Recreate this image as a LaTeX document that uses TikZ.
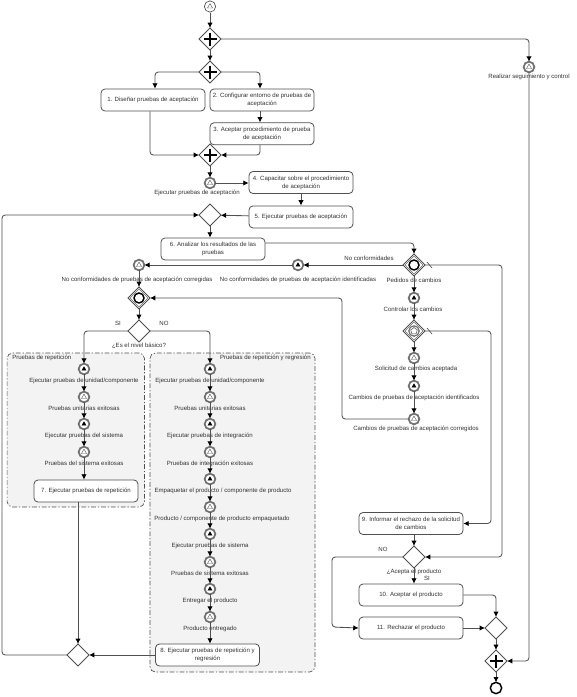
\documentclass[tikz,border=0pt]{standalone}
\usepackage{fontspec}
\setmainfont{Liberation Sans}
\usepackage{xcolor}
\usetikzlibrary{arrows.meta,positioning,shapes.geometric,calc}
\definecolor{linec}{HTML}{505050}
\definecolor{ringc}{HTML}{707070}
\definecolor{groupc}{HTML}{F3F3F3}
\tikzset{
  task/.style={draw=linec, fill=white, rounded corners=3pt, line width=.6pt, minimum width=78pt, minimum height=16.5pt, inner sep=0pt},
  gate/.style={draw=linec, fill=white, diamond, minimum size=16.5pt, inner sep=0pt, outer sep=0pt, line width=.6pt},
  plusgate/.style={gate, path picture={
    \draw[black, line width=2.2pt] ($(path picture bounding box.center)+(-6.5,0)$) -- ($(path picture bounding box.center)+(6.5,0)$);
    \draw[black, line width=2.2pt] ($(path picture bounding box.center)+(0,-6.5)$) -- ($(path picture bounding box.center)+(0,6.5)$);}},
  ringgate/.style={gate, path picture={
    \draw[ringc, line width=.3pt] (path picture bounding box.center) ++(-9,0) -- ++(9,-9) -- ++(9,9) -- ++(-9,9) -- cycle;
    \draw[black, line width=1.1pt] (path picture bounding box.center) circle[radius=5];}},
  multigate/.style={gate, path picture={
    \draw[ringc, line width=.3pt] (path picture bounding box.center) ++(-9,0) -- ++(9,-9) -- ++(9,9) -- ++(-9,9) -- cycle;
    \draw[ringc, line width=.9pt] (path picture bounding box.center) circle[radius=5.2];
    \draw[linec, line width=.4pt] (path picture bounding box.center) ++(0,-3.5) -- ++(3.3,2.4) -- ++(-1.2,3.9) -- ++(-4.2,0) -- ++(-1.2,-3.9) -- cycle;}},
  evbase/.style={circle, draw=ringc, fill=white, line width=1.3pt, minimum size=8pt, inner sep=0pt, outer sep=0pt},
  evcatch/.style={evbase, label={[regular polygon, regular polygon sides=3, draw=linec, line width=.3pt, minimum size=4.4pt, inner sep=0pt]center:}},
  evthrow/.style={evbase, label={[regular polygon, regular polygon sides=3, draw=black, fill=black, line width=.2pt, minimum size=3.6pt, inner sep=0pt]center:}},
  evlabel/.style={inner sep=0pt, text height=3.4pt, text depth=1pt},
  groupbox/.style={draw=linec, fill=groupc, dash pattern=on 3.6pt off 1.4pt on 1pt off 1.4pt, rounded corners=4pt, line width=.5pt, inner sep=0pt},
  flow/.style={->, draw=linec, line width=.65pt, rounded corners=2.5pt}
}
\begin{document}
\begin{tikzpicture}[x=.75pt, y=-.75pt, >={Latex[length=4pt,width=4pt,black]}, node distance=2.6pt, every node/.style={font=\fontsize{4.55}{6}\selectfont, text=black!80, align=center}]
\useasboundingbox (0,0) rectangle (577,697);

\node (rep) [groupbox, minimum width=103pt, minimum height=115.5pt] at (75.75,430) {};
\node (reg) [groupbox, minimum width=123.75pt, minimum height=239.25pt] at (232.5,512.5) {};
\node (replab) [evlabel, anchor=west] at (12,358) {Pruebas de repetición};
\node (reglab) [evlabel, anchor=east] at (311,358) {Pruebas de repetición y regresión};

\node (start) [circle, draw=linec, fill=white, line width=.5pt, minimum size=8.5pt, inner sep=0pt, label={[regular polygon, regular polygon sides=3, draw=linec, line width=.3pt, minimum size=4.4pt, inner sep=0pt]center:}] at (210,6.5) {};
\node (par1) [plusgate] at (210,39) {};
\node (par2) [plusgate] at (210,72) {};
\node (dis) [task] at (153,100) {1. Diseñar pruebas de aceptación};
\node (conf) [task] at (262,100) {2. Configurar entorno de pruebas de\\aceptación};
\node (acep) [task, below=8.25pt of conf] {3. Aceptar procedimiento de prueba\\de aceptación};
\node (par3) [plusgate] at (210,155) {};
\node (ejev) [evcatch] at (210,183) {};
\node (ejlab) [evlabel, below=1pt of ejev, xshift=-9.75pt] {Ejecutar pruebas de aceptación};
\node (capa) [task] at (301,182.5) {4. Capacitar sobre el procedimiento\\de aceptación};
\node (ejec) [task, below=8.75pt of capa] {5. Ejecutar pruebas de aceptación};
\node (xor1) [gate] at (210,215) {};
\node (anal) [task] at (213,249) {6. Analizar los resultados de las\\pruebas};

\node (real) [evcatch] at (529,67) {};
\node (reallab) [evlabel, below=1pt of real] {Realizar seguimiento y control};

\node (pedi) [ringgate] at (414,265) {};
\node (pedilab) [evlabel, below=1.5pt of pedi] {Pedidos de cambios};
\node (nolab) [evlabel] at (369,258.5) {No conformidades};
\node (ident) [evthrow] at (298,265) {};
\node (identlab) [evlabel, below=4.5pt of ident] {No conformidades de pruebas de aceptación identificadas};
\node (corr) [evcatch] at (139,265) {};
\node (corrlab) [evlabel, below=4.5pt of corr, xshift=-1.5pt] {No conformidades de pruebas de aceptación corregidas};
\node (merg) [ringgate] at (139,298) {};
\node (nivel) [gate] at (139,331) {};
\node (nivellab) [evlabel, below=.75pt of nivel] {¿Es el nivel básico?};
\node (silab) [evlabel] at (118,324) {SI};
\node (nonlab) [evlabel] at (164,324) {NO};

\node (ctrl) [evthrow] at (414,298) {};
\node (ctrllab) [evlabel, below=of ctrl, xshift=-.75pt] {Controlar los cambios};
\node (multi) [multigate] at (414,331) {};
\node (soli) [evcatch] at (414,358) {};
\node (solilab) [evlabel, below=1.5pt of soli, xshift=1.5pt] {Solicitud de cambios aceptada};
\node (camb) [evthrow] at (414,386) {};
\node (camblab) [evlabel, below=of camb] {Cambios de pruebas de aceptación identificados};
\node (cors) [evcatch] at (414,419) {};
\node (corslab) [evlabel, below=1pt of cors, xshift=1.5pt] {Cambios de pruebas de aceptación corregidos};

\node (a1) [evthrow] at (84,369) {};
\node (a1lab) [evlabel, below=of a1] {Ejecutar pruebas de unidad/componente};
\node (a2) [evcatch] at (84,397) {};
\node (a2lab) [evlabel, below=of a2] {Pruebas unitarias exitosas};
\node (a3) [evthrow] at (84,424) {};
\node (a3lab) [evlabel, below=of a3] {Ejecutar pruebas del sistema};
\node (a4) [evcatch] at (84,452) {};
\node (a4lab) [evlabel, below=of a4] {Pruebas del sistema exitosas};
\node (rept) [task] at (86,491) {7. Ejecutar pruebas de repetición};

\node (b1) [evthrow] at (210,369) {};
\node (b1lab) [evlabel, below=of b1] {Ejecutar pruebas de unidad/componente};
\node (b2) [evcatch] at (210,397) {};
\node (b2lab) [evlabel, below=of b2] {Pruebas unitarias exitosas};
\node (b3) [evthrow] at (210,424) {};
\node (b3lab) [evlabel, below=of b3] {Ejecutar pruebas de integración};
\node (b4) [evcatch] at (210,452) {};
\node (b4lab) [evlabel, below=of b4] {Pruebas de integración exitosas};
\node (b5) [evthrow] at (210,479) {};
\node (b5lab) [evlabel, below=of b5, xshift=9.75pt] {Empaquetar el producto / componente de producto};
\node (b6) [evcatch] at (210,507) {};
\node (b6lab) [evlabel, below=of b6, xshift=9pt] {Producto / componente de producto empaquetado};
\node (b7) [evthrow] at (210,534) {};
\node (b7lab) [evlabel, below=of b7] {Ejecutar pruebas de sistema};
\node (b8) [evcatch] at (210,562) {};
\node (b8lab) [evlabel, below=of b8] {Pruebas de sistema exitosas};
\node (b9) [evthrow] at (210,589) {};
\node (b9lab) [evlabel, below=of b9] {Entregar el producto};
\node (b10) [evcatch] at (210,617) {};
\node (b10lab) [evlabel, below=of b10] {Producto entregado};
\node (regt) [task] at (207.5,655) {8. Ejecutar pruebas de repetición y\\regresión};
\node (xor2) [gate] at (78,655) {};

\node (rech) [task] at (411,523.5) {9. Informar el rechazo de la solicitud\\de cambios};
\node (acpt) [gate] at (414,557) {};
\node (acptlab) [evlabel, below=.75pt of acpt] {¿Acepta el producto};
\node (silab2) [evlabel] at (427,579) {SI};
\node (nolab2) [evlabel] at (383,550) {NO};
\node (acep2) [task] at (411,595) {10. Aceptar el producto};
\node (rech2) [task] at (411,628) {11. Rechazar el producto};
\node (xor3) [gate] at (496,628) {};
\node (par4) [plusgate] at (496,661) {};
\node (fin) [circle, draw=black, fill=white, line width=1.1pt, minimum size=8.5pt, inner sep=0pt, outer sep=0pt] at (496,688) {};

\draw[flow] (start) -- (par1);
\draw[flow] (par1) -- (par2);
\draw[flow] (par1.east) -| (real.north);
\draw[flow] (par2.west) -| ($(dis.north)+(2,0)$);
\draw[flow] (par2.east) -| ($(conf.north)+(-2,0)$);
\draw[flow] ($(conf.south)+(-2,0)$) -- ($(acep.north)+(-2,0)$);
\draw[flow] ($(dis.south)+(-3,0)$) |- (par3.west);
\draw[flow] ($(acep.south)+(-2,0)$) |- (par3.east);
\draw[flow] (par3) -- (ejev);
\draw[flow] (ejev) -- ($(capa.west)+(0,.5)$);
\draw[flow] (capa) -- (ejec);
\draw[flow] (ejec) -- (xor1);
\draw[flow] (xor1) -- (xor1 |- anal.north);
\draw[flow] ($(anal.east)+(0,-6)$) -| (pedi.north);
\draw[flow] (pedi) -- (ident);
\draw[flow] (ident) -- (corr);
\draw[flow] (corr) -- (merg);
\draw[flow] (merg) -- (nivel);
\draw[flow] (nivel.west) -| (a1.north);
\draw[flow] (nivel.east) -| (b1.north);
\draw[flow] (a1) -- (a2);
\draw[flow] (a2) -- (a3);
\draw[flow] (a3) -- (a4);
\draw[flow] (a4) -- (a4 |- rept.north);
\draw[flow] (b1) -- (b2);
\draw[flow] (b2) -- (b3);
\draw[flow] (b3) -- (b4);
\draw[flow] (b4) -- (b5);
\draw[flow] (b5) -- (b6);
\draw[flow] (b6) -- (b7);
\draw[flow] (b7) -- (b8);
\draw[flow] (b8) -- (b9);
\draw[flow] (b9) -- (b10);
\draw[flow] (b10) -- (b10 |- regt.north);
\draw[flow] (xor2 |- rept.south) -- (xor2.north);
\draw[flow] (regt.west) -- (xor2.east);
\draw[flow] (xor2.west) -- ++(-65,0) |- (xor1.west);
\draw[flow] (pedi) -- (ctrl);
\draw[flow] (ctrl) -- (multi);
\draw[flow] (multi) -- (soli);
\draw[flow] (soli) -- (camb);
\draw[flow] (camb) -- (cors);
\draw[flow] (cors.west) -| (342,298) -- (merg.east);
\draw[flow] (pedi.east) -| (502,557) -- (acpt.east);
\draw[line width=.5pt, draw=linec] ($(pedi.east)+(2,-3)$) -- ($(pedi.east)+(7,3)$);
\draw[flow] (multi.east) -| (491,523.5) -- (rech.east);
\draw[line width=.5pt, draw=linec] ($(multi.east)+(2,-3)$) -- ($(multi.east)+(7,3)$);
\draw[flow] (rech.south -| acpt) -- (acpt.north);
\draw[flow] (acpt.south) -- (acpt |- acep2.north);
\draw[flow] (acpt.west) -| (332,627) -- (rech2.west);
\draw[flow] (acep2.east) -| (xor3.north);
\draw[flow] (rech2.east) -- (xor3.west);
\draw[flow] (xor3) -- (par4);
\draw[flow] (par4) -- (fin);
\draw[flow] (real.south) |- (par4.east);
\end{tikzpicture}
\end{document}
